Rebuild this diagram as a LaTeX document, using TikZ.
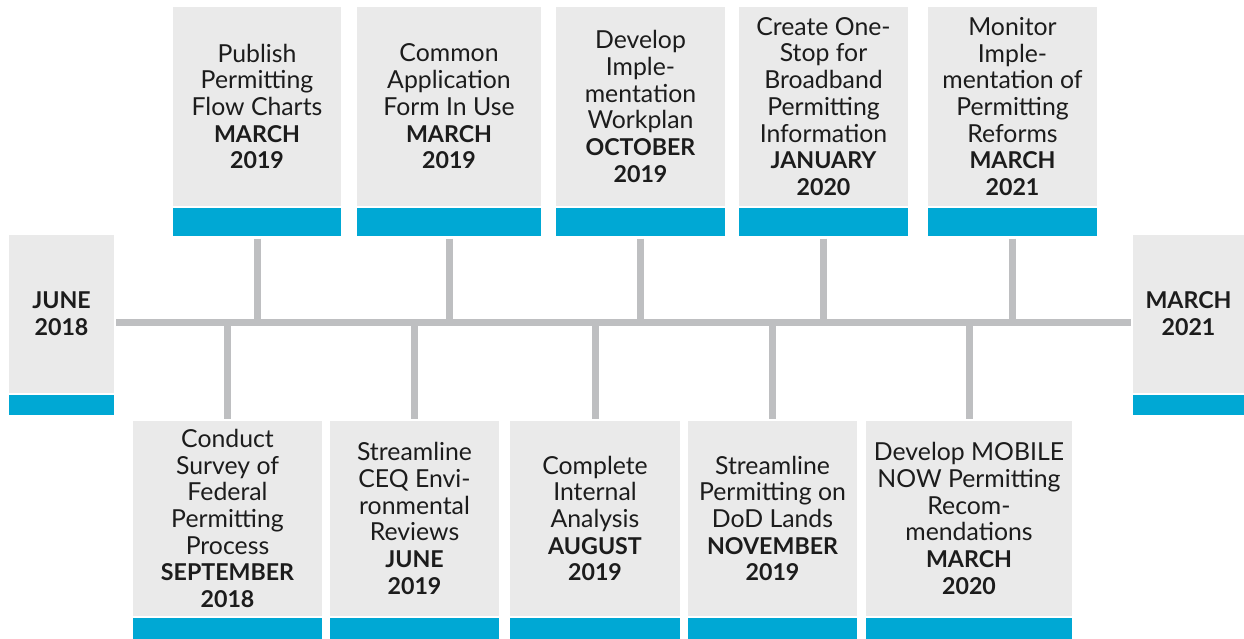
\documentclass[tikz,border=0pt]{standalone}
\usepackage{fontspec}
\setmainfont{Lato}
\usepackage{xcolor}
\usetikzlibrary{positioning}
\definecolor{cardgray}{HTML}{EAEAEA}
\definecolor{barblue}{HTML}{00A8D4}
\definecolor{linegray}{HTML}{BEBFC1}
\definecolor{inkdark}{HTML}{1C1C1C}
\tikzset{
	card/.style={fill=cardgray, inner sep=0pt, align=center, text=inkdark,
		font=\fontsize{24.8}{26.7}\selectfont},
	bar/.style={fill=barblue, inner sep=0pt},
	stem/.style={draw=linegray, line width=7pt}
}
\newcommand{\when}[1]{{\fontsize{23.2}{26.7}\selectfont\bfseries #1}}

\begin{document}
\begin{tikzpicture}[x=1pt, y=-1pt, node distance=2pt]
	\useasboundingbox (0,0) rectangle (1244,639);
	\coordinate (axis) at (0,322);
	% end points
	\node[card, minimum width=105pt, minimum height=158pt] (start) at (61.5,313.5) {\when{JUNE}\\\when{2018}};
	\node[bar, minimum width=105pt, minimum height=20pt, below=of start] (startbar) {};
	\node[card, minimum width=111pt, minimum height=158pt] (finish) at (1188.5,313.5) {\when{MARCH}\\\when{2021}};
	\node[bar, minimum width=111pt, minimum height=20pt, below=of finish] (finishbar) {};
	% upper row
	\node[card, minimum width=168pt, minimum height=199pt] (t1) at (257,106.5)
		{Publish\\Permitting\\Flow Charts\\\when{MARCH}\\\when{2019}};
	\node[bar, minimum width=168pt, minimum height=28pt, below=of t1] (t1bar) {};
	\node[card, minimum width=184pt, minimum height=199pt] (t2) at (449,106.5)
		{Common\\Application\\Form In Use\\\when{MARCH}\\\when{2019}};
	\node[bar, minimum width=184pt, minimum height=28pt, below=of t2] (t2bar) {};
	\node[card, minimum width=169pt, minimum height=199pt] (t3) at (640.5,106.5)
		{Develop\\Imple-\\mentation\\Workplan\\\when{OCTOBER}\\\when{2019}};
	\node[bar, minimum width=169pt, minimum height=28pt, below=of t3] (t3bar) {};
	\node[card, minimum width=169pt, minimum height=199pt] (t4) at (823.5,106.5)
		{Create One-\\Stop for\\Broadband\\Permitting\\Information\\\when{JANUARY}\\\when{2020}};
	\node[bar, minimum width=169pt, minimum height=28pt, below=of t4] (t4bar) {};
	\node[card, minimum width=169pt, minimum height=199pt] (t5) at (1012.5,106.5)
		{Monitor\\Imple-\\mentation of\\Permitting\\Reforms\\\when{MARCH}\\\when{2021}};
	\node[bar, minimum width=169pt, minimum height=28pt, below=of t5] (t5bar) {};
	% lower row
	\node[card, minimum width=189pt, minimum height=195pt] (b1) at (227.5,518.5)
		{Conduct\\Survey of\\Federal\\Permitting\\Process\\\when{SEPTEMBER}\\\when{2018}};
	\node[bar, minimum width=189pt, minimum height=21pt, below=of b1] (b1bar) {};
	\node[card, minimum width=169pt, minimum height=195pt] (b2) at (414.5,518.5)
		{Streamline\\CEQ Envi-\\ronmental\\Reviews\\\when{JUNE}\\\when{2019}};
	\node[bar, minimum width=169pt, minimum height=21pt, below=of b2] (b2bar) {};
	\node[card, minimum width=170pt, minimum height=195pt] (b3) at (595,518.5)
		{Complete\\Internal\\Analysis\\\when{AUGUST}\\\when{2019}};
	\node[bar, minimum width=170pt, minimum height=21pt, below=of b3] (b3bar) {};
	\node[card, minimum width=169pt, minimum height=195pt] (b4) at (772.5,518.5)
		{Streamline\\Permitting on\\DoD Lands\\\when{NOVEMBER}\\\when{2019}};
	\node[bar, minimum width=169pt, minimum height=21pt, below=of b4] (b4bar) {};
	\node[card, minimum width=206pt, minimum height=195pt] (b5) at (969,518.5)
		{Develop MOBILE\\NOW Permitting\\Recom-\\mendations\\\when{MARCH}\\\when{2020}};
	\node[bar, minimum width=206pt, minimum height=21pt, below=of b5] (b5bar) {};
	% timeline
	\draw[stem] ([xshift=2pt]start.east |- axis) -- ([xshift=-2pt]finish.west |- axis);
	\foreach \n in {t1,t2,t3,t4,t5}
		\draw[stem] ([yshift=-2pt]\n bar.south) -- (\n bar.south |- axis);
	\foreach \n in {b1,b2,b3,b4,b5}
		\draw[stem] ([yshift=2pt]\n.north) -- (\n.north |- axis);
\end{tikzpicture}
\end{document}
